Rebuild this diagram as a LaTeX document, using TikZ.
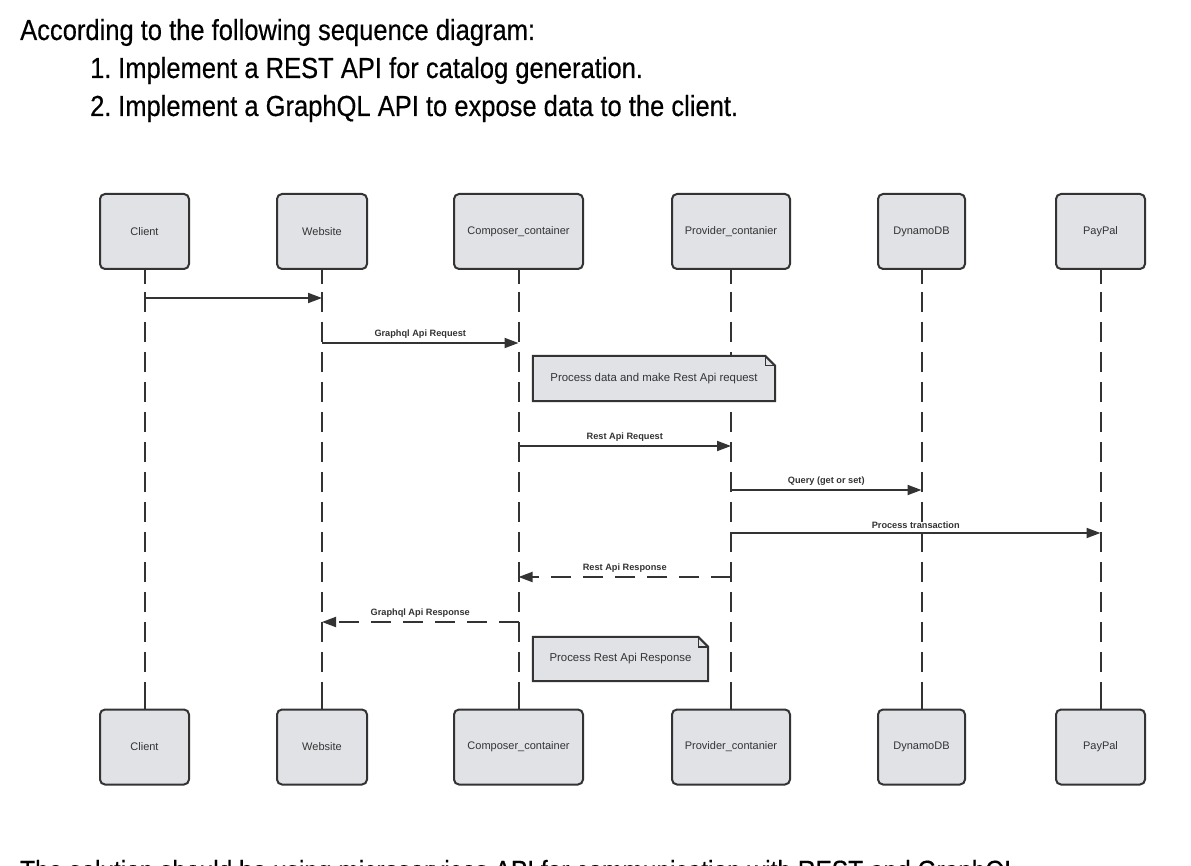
\documentclass[tikz,border=0pt]{standalone}
\usepackage{fontspec}
\setmainfont{Liberation Sans}
\newfontfamily\headfont[FakeStretch=0.88,FakeBold=0.4]{Liberation Sans}
\usetikzlibrary{arrows.meta}
\definecolor{boxfill}{HTML}{E0E2E6}
\definecolor{ink}{HTML}{333333}
\begin{document}
\begin{tikzpicture}[x=1pt,y=-1pt,
  part/.style={draw=ink,line width=2pt,fill=boxfill,rounded corners=5pt,minimum height=75pt,font=\fontsize{11}{13}\selectfont,text=ink,inner sep=0pt},
  life/.style={draw=ink,line width=2pt,dash pattern=on 20pt off 10pt},
  stub/.style={draw=ink,line width=2pt},
  msg/.style={draw=ink,line width=1.8pt,-{Triangle[length=14pt,width=10pt]}},
  ret/.style={msg,dash pattern=on 20pt off 12pt},
  mlabel/.style={font=\bfseries\fontsize{9.2}{11}\selectfont,text=ink,inner sep=1pt,anchor=south},
  notebox/.style={fill=boxfill,draw=ink,line width=2pt},
  notetext/.style={font=\fontsize{11.4}{13}\selectfont,text=ink},
  head/.style={font=\headfont\fontsize{29}{32}\selectfont,text=black,anchor=base west,inner sep=0pt}
]
\clip (0,0) rectangle (1191,866);
\fill[white] (0,0) rectangle (1191,866);

% heading text
\node[head] (h1) at (20,40) {According to the following sequence diagram:};
\node[head] (h2n) at (90,78) {1.};
\node[head] (h2) at (118,78) {Implement a REST API for catalog generation.};
\node[head] (h3n) at (90,116) {2.};
\node[head] (h3) at (118,116) {Implement a GraphQL API to expose data to the client.};
\node[head,font=\headfont\fontsize{27.8}{32}\selectfont] (h4) at (20,880) {The solution should be using microservices API for communication with REST and GraphQL};

% participants top
\node[part,minimum width=89pt] (ct) at (144.5,231.5) {Client};
\node[part,minimum width=90pt] (wt) at (322,231.5) {Website};
\node[part,minimum width=129pt] (kt) at (518.5,231.5) {Composer\_container};
\node[part,minimum width=118pt] (pt) at (731,231.5) {Provider\_contanier};
\node[part,minimum width=87pt] (dt) at (921.5,231.5) {DynamoDB};
\node[part,minimum width=89pt] (yt) at (1100.5,231.5) {PayPal};
% participants bottom
\node[part,minimum width=89pt] (cb) at (144.5,747) {Client};
\node[part,minimum width=90pt] (wb) at (322,747) {Website};
\node[part,minimum width=129pt] (kb) at (518.5,747) {Composer\_container};
\node[part,minimum width=118pt] (pb) at (731,747) {Provider\_contanier};
\node[part,minimum width=87pt] (db) at (921.5,747) {DynamoDB};
\node[part,minimum width=89pt] (yb) at (1100.5,747) {PayPal};

% lifelines
\foreach \a/\b in {ct/cb,wt/wb,kt/kb,pt/pb,dt/db,yt/yb}{
  \draw[stub] (\a.south) -- ++(0,14);
  \draw[life] ([yshift=-22pt]\a.south) -- ([yshift=14pt]\b.north);
  \draw[stub] (\b.north) -- ++(0,-14);
}

% messages
\draw[msg] (ct.south |- 0,298) -- (wt.south |- 0,298);
\draw[msg] (wt.south |- 0,343) -- node[mlabel,yshift=3pt]{Graphql Api Request} (kt.south |- 0,343);

% note 1
\node[notetext,minimum width=242pt,minimum height=45pt,inner sep=0pt] (n1) at (654,378.5) {};
\filldraw[notebox] (n1.north west) -- ([xshift=-10pt]n1.north east) -- ([yshift=-10pt]n1.north east) -- (n1.south east) -- (n1.south west) -- cycle;
\draw[draw=ink,line width=1.4pt] ([xshift=-10pt]n1.north east) -- ([xshift=-10pt,yshift=-10pt]n1.north east) -- ([yshift=-10pt]n1.north east);
\node[notetext] at (n1.center) {Process data and make Rest Api request};

\draw[msg] (kt.south |- 0,446) -- node[mlabel,yshift=3pt]{Rest Api Request} (pt.south |- 0,446);
\draw[msg] (pt.south |- 0,490) -- node[mlabel,yshift=3pt]{Query (get or set)} (dt.south |- 0,490);
\draw[msg] (pt.south |- 0,533) -- node[mlabel,yshift=3pt,pos=0.5]{Process transaction} (yt.south |- 0,533);
\draw[ret] (pt.south |- 0,577) -- node[mlabel,yshift=3pt]{Rest Api Response} (kt.south |- 0,577);
\draw[ret] (kt.south |- 0,622) -- node[mlabel,yshift=3pt]{Graphql Api Response} (wt.south |- 0,622);

% note 2
\node[notetext,minimum width=175pt,minimum height=44pt,inner sep=0pt] (n2) at (620.5,659) {};
\filldraw[notebox] (n2.north west) -- ([xshift=-10pt]n2.north east) -- ([yshift=-10pt]n2.north east) -- (n2.south east) -- (n2.south west) -- cycle;
\draw[draw=ink,line width=1.4pt] ([xshift=-10pt]n2.north east) -- ([xshift=-10pt,yshift=-10pt]n2.north east) -- ([yshift=-10pt]n2.north east);
\node[notetext] at (n2.center) {Process Rest Api Response};
\end{tikzpicture}
\end{document}
